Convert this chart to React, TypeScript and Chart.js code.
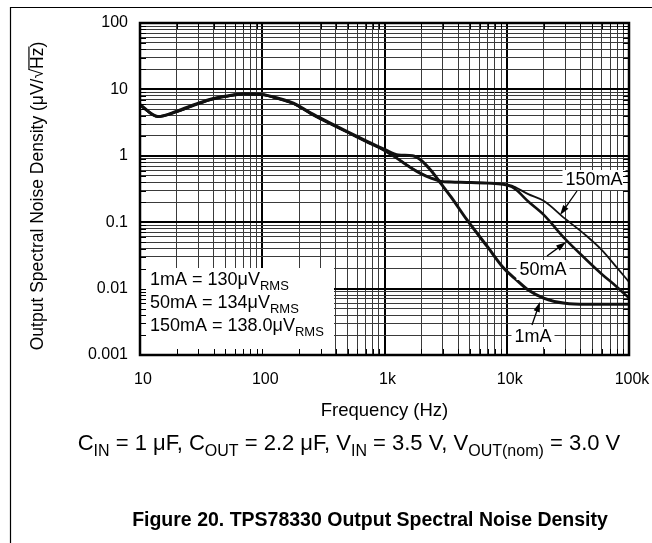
import React, { useEffect, useRef } from "react";
import { Chart, registerables } from "chart.js";

Chart.register(...registerables);

// ---------- data ----------
const FREQ_HZ = [
  10, 14, 20, 30, 40, 50, 70, 100, 130, 180, 250, 350, 500, 700, 1000, 1300,
  1700, 2000, 2400, 2900, 3500, 4700, 7000, 9300, 11000, 12000, 15000, 20000,
  30000, 45000, 60000, 80000, 100000,
];
const NOISE_1MA = [
  5.9, 3.9, 4.7, 6.2, 7.3, 7.9, 8.6, 8.4, 7.5, 6.2, 4.4, 3.2, 2.3, 1.7, 1.25,
  1.03, 1.0, 0.85, 0.6, 0.38, 0.24, 0.11, 0.042, 0.021, 0.0155, 0.0135, 0.0095,
  0.0072, 0.006, 0.0058, 0.0058, 0.0058, 0.0058,
];
const NOISE_50MA = [
  5.8, 3.9, 4.6, 6.1, 7.2, 7.8, 8.5, 8.3, 7.4, 6.1, 4.3, 3.1, 2.25, 1.65, 1.2,
  0.88, 0.63, 0.53, 0.46, 0.41, 0.4, 0.395, 0.385, 0.37, 0.34, 0.305, 0.205,
  0.13, 0.056, 0.027, 0.0165, 0.0105, 0.0072,
];
const NOISE_150MA = [
  5.8, 3.9, 4.6, 6.1, 7.2, 7.8, 8.5, 8.3, 7.4, 6.1, 4.3, 3.1, 2.25, 1.65, 1.2,
  0.9, 0.65, 0.55, 0.47, 0.42, 0.41, 0.405, 0.395, 0.38, 0.355, 0.33, 0.265,
  0.21, 0.113, 0.062, 0.038, 0.0205, 0.0126,
];
const SERIES_NAMES = ["1mA", "50mA", "150mA"];
const SERIES_WIDTHS = [3, 2.6, 1.8];

const X_DECADES = [10, 100, 1000, 10000, 100000];
const X_TICK_LABELS = ["10", "100", "1k", "10k", "100k"];
const Y_DECADES = [0.001, 0.01, 0.1, 1, 10, 100];
const Y_TICK_LABELS = ["0.001", "0.01", "0.1", "1", "10", "100"];

const RMS_TEXT = ["1mA = 130μV", "50mA = 134μV", "150mA = 138.0μV"];
// arrow heads point at these (frequency, density) spots on each curve
const ARROW_FREQ = [18700, 30500, 27300];
const ARROW_VALUE = [0.0063, 0.05, 0.128];

// ---------- helpers ----------
const FF = '"Liberation Sans", Arial, Helvetica, sans-serif';

function withMinors(decades: number[]): number[] {
  const out: number[] = [];
  for (let i = 0; i < decades.length - 1; i++) {
    for (let k = 1; k < 10; k++) out.push(decades[i] * k);
  }
  out.push(decades[decades.length - 1]);
  return out;
}
function decadeIndex(v: number, decades: number[]): number {
  return decades.findIndex((d) => Math.abs(v / d - 1) < 1e-6);
}

type Part = [string, boolean];
function drawRich(
  ctx: CanvasRenderingContext2D,
  parts: Part[],
  x: number,
  y: number,
  size: number,
  align: "left" | "center",
  bold = false,
  subRatio = 0.7
) {
  const sub = Math.round(size * subRatio);
  const f = (s: number) => `${bold ? "bold " : ""}${s}px ${FF}`;
  let total = 0;
  for (const [t, isSub] of parts) {
    ctx.font = f(isSub ? sub : size);
    total += ctx.measureText(t).width;
  }
  let cx = align === "center" ? x - total / 2 : x;
  ctx.textAlign = "left";
  ctx.textBaseline = "alphabetic";
  for (const [t, isSub] of parts) {
    ctx.font = f(isSub ? sub : size);
    ctx.fillText(t, cx, isSub ? y + size * 0.27 : y);
    cx += ctx.measureText(t).width;
  }
}

function arrow(
  ctx: CanvasRenderingContext2D,
  x1: number,
  y1: number,
  x2: number,
  y2: number
) {
  const a = Math.atan2(y2 - y1, x2 - x1);
  const L = 10;
  const W = 3.2;
  ctx.beginPath();
  ctx.moveTo(x1, y1);
  ctx.lineTo(x2 - Math.cos(a) * L * 0.8, y2 - Math.sin(a) * L * 0.8);
  ctx.lineWidth = 1.3;
  ctx.strokeStyle = "#000";
  ctx.stroke();
  ctx.beginPath();
  ctx.moveTo(x2, y2);
  ctx.lineTo(
    x2 - Math.cos(a) * L - Math.sin(a) * W,
    y2 - Math.sin(a) * L + Math.cos(a) * W
  );
  ctx.lineTo(
    x2 - Math.cos(a) * L + Math.sin(a) * W,
    y2 - Math.sin(a) * L - Math.cos(a) * W
  );
  ctx.closePath();
  ctx.fillStyle = "#000";
  ctx.fill();
}

const decorPlugin = {
  id: "decor",
  afterDatasetsDraw(chart: any) {
    const ctx: CanvasRenderingContext2D = chart.ctx;
    const area = chart.chartArea;
    const xs = chart.scales.x;
    const ys = chart.scales.y;
    ctx.save();

    // white legend box (RMS values)
    ctx.fillStyle = "#fff";
    ctx.fillRect(area.left, 268, 334 - area.left, area.bottom - 268);

    // curve label boxes
    const labelBoxes = [
      { text: "1mA", x: 533, y: 342, tail: [532, 325] },
      { text: "50mA", x: 543, y: 275, tail: [547, 256] },
      { text: "150mA", x: 594, y: 185, tail: [577, 191] },
    ];
    ctx.font = `18px ${FF}`;
    labelBoxes.forEach((b) => {
      const w = ctx.measureText(b.text).width;
      ctx.fillStyle = "#fff";
      ctx.fillRect(b.x - w / 2 - 3, b.y - 15, w + 6, 20);
    });

    // inner tick marks along frame
    ctx.strokeStyle = "#000";
    ctx.lineWidth = 1;
    withMinors(X_DECADES).forEach((v) => {
      const px = Math.round(xs.getPixelForValue(v)) + 0.5;
      ctx.beginPath();
      ctx.moveTo(px, area.bottom);
      ctx.lineTo(px, area.bottom - 6);
      ctx.moveTo(px, area.top);
      ctx.lineTo(px, area.top + 6);
      ctx.stroke();
    });
    withMinors(Y_DECADES).forEach((v) => {
      const py = Math.round(ys.getPixelForValue(v)) + 0.5;
      ctx.beginPath();
      ctx.moveTo(area.left, py);
      ctx.lineTo(area.left + 6, py);
      ctx.moveTo(area.right, py);
      ctx.lineTo(area.right - 6, py);
      ctx.stroke();
    });

    // frame
    ctx.lineWidth = 2.5;
    ctx.strokeStyle = "#000";
    ctx.strokeRect(area.left, area.top, area.right - area.left, area.bottom - area.top);

    // RMS legend text
    ctx.fillStyle = "#000";
    const baselines = [285, 308, 331];
    RMS_TEXT.forEach((t, i) => {
      drawRich(ctx, [[t, false], ["RMS", true]], 150, baselines[i], 18, "left");
    });

    // curve labels + arrows
    ctx.fillStyle = "#000";
    labelBoxes.forEach((b, i) => {
      ctx.font = `18px ${FF}`;
      ctx.textAlign = "center";
      ctx.textBaseline = "alphabetic";
      ctx.fillText(b.text, b.x, b.y);
      const hx = xs.getPixelForValue(ARROW_FREQ[i]);
      const hy = ys.getPixelForValue(ARROW_VALUE[i]);
      arrow(ctx, b.tail[0], b.tail[1], hx, hy);
    });

    ctx.restore();
  },
  afterDraw(chart: any) {
    const ctx: CanvasRenderingContext2D = chart.ctx;
    const area = chart.chartArea;
    ctx.save();
    ctx.fillStyle = "#000";

    // page frame (top + left)
    ctx.strokeStyle = "#000";
    ctx.lineWidth = 1.2;
    ctx.beginPath();
    ctx.moveTo(10.5, 543);
    ctx.lineTo(10.5, 7.5);
    ctx.lineTo(652, 7.5);
    ctx.stroke();

    // y axis title with overline over Hz
    ctx.save();
    ctx.translate(37, 196);
    ctx.rotate(-Math.PI / 2);
    const size = 17.5;
    ctx.font = `${size}px ${FF}`;
    const pre = "Output Spectral Noise Density (μV/√";
    const hz = "Hz";
    const full = pre + hz + ")";
    const w = ctx.measureText(full).width;
    const wPre = ctx.measureText(pre).width;
    const wHz = ctx.measureText(hz).width;
    ctx.textAlign = "left";
    ctx.textBaseline = "alphabetic";
    const sx = -w / 2;
    const base = size * 0.36;
    ctx.fillText(full, sx, base);
    ctx.lineWidth = 1.2;
    ctx.beginPath();
    ctx.moveTo(sx + wPre - 1, base - size * 0.82);
    ctx.lineTo(sx + wPre + wHz + 1, base - size * 0.82);
    ctx.stroke();
    ctx.restore();

    // x axis title
    ctx.font = `18.5px ${FF}`;
    ctx.textAlign = "center";
    ctx.textBaseline = "alphabetic";
    ctx.fillText("Frequency (Hz)", (area.left + area.right) / 2, 416);

    // conditions
    drawRich(
      ctx,
      [
        ["C", false],
        ["IN", true],
        [" = 1 μF, C", false],
        ["OUT", true],
        [" = 2.2 μF, V", false],
        ["IN", true],
        [" = 3.5 V, V", false],
        ["OUT(nom)", true],
        [" = 3.0 V", false],
      ],
      349,
      450,
      22,
      "center",
      false,
      0.72
    );

    // caption
    drawRich(
      ctx,
      [["Figure 20. TPS78330 Output Spectral Noise Density", false]],
      370,
      526,
      19.5,
      "center",
      true
    );
    ctx.restore();
  },
};

export default function App() {
  const ref = useRef<HTMLCanvasElement | null>(null);

  useEffect(() => {
    if (!ref.current) return;
    const mk = (vals: number[]) => FREQ_HZ.map((f, i) => ({ x: f, y: vals[i] }));
    const series = [NOISE_1MA, NOISE_50MA, NOISE_150MA];
    const chart = new Chart(ref.current, {
      type: "line",
      data: {
        datasets: series.map((vals, i) => ({
          label: SERIES_NAMES[i],
          data: mk(vals),
          borderColor: "#111",
          borderWidth: SERIES_WIDTHS[i],
          pointRadius: 0,
          fill: false,
          cubicInterpolationMode: "monotone" as const,
        })),
      },
      options: {
        responsive: false,
        maintainAspectRatio: false,
        animation: false,
        devicePixelRatio: 1,
        layout: { padding: { left: 0, top: 23, right: 23, bottom: 148 } },
        plugins: {
          legend: { display: false },
          tooltip: { enabled: false },
        },
        scales: {
          x: {
            type: "logarithmic",
            min: 10,
            max: 100000,
            afterBuildTicks: (axis: any) => {
              axis.ticks = withMinors(X_DECADES).map((v) => ({ value: v }));
            },
            afterFit: (axis: any) => {
              axis.height = 40;
              axis.paddingLeft = 0;
              axis.paddingRight = 0;
            },
            border: { display: false },
            grid: {
              drawTicks: false,
              color: (c: any) =>
                decadeIndex(c.tick?.value, X_DECADES) >= 0 ? "#000" : "#3a3a3a",
              lineWidth: (c: any) =>
                decadeIndex(c.tick?.value, X_DECADES) >= 0 ? 2 : 1,
            },
            ticks: {
              autoSkip: false,
              maxRotation: 0,
              padding: 15,
              labelOffset: 3,
              color: "#000",
              font: { family: FF, size: 16 },
              callback: (v: any) => {
                const i = decadeIndex(Number(v), X_DECADES);
                return i >= 0 ? X_TICK_LABELS[i] : "";
              },
            },
          },
          y: {
            type: "logarithmic",
            min: 0.001,
            max: 100,
            afterBuildTicks: (axis: any) => {
              axis.ticks = withMinors(Y_DECADES).map((v) => ({ value: v }));
            },
            afterFit: (axis: any) => {
              axis.width = 140;
              axis.paddingTop = 0;
              axis.paddingBottom = 0;
            },
            border: { display: false },
            grid: {
              drawTicks: false,
              color: (c: any) =>
                decadeIndex(c.tick?.value, Y_DECADES) >= 0 ? "#000" : "#3a3a3a",
              lineWidth: (c: any) =>
                decadeIndex(c.tick?.value, Y_DECADES) >= 0 ? 2 : 1,
            },
            ticks: {
              autoSkip: false,
              padding: 12,
              color: "#000",
              font: { family: FF, size: 16 },
              callback: (v: any) => {
                const i = decadeIndex(Number(v), Y_DECADES);
                return i >= 0 ? Y_TICK_LABELS[i] : "";
              },
            },
          },
        },
      },
      plugins: [decorPlugin],
    } as any);
    return () => chart.destroy();
  }, []);

  return (
    <div style={{ position: "absolute", left: 0, top: 0, width: 652, height: 543, background: "#fff" }}>
      <canvas ref={ref} width={652} height={543} style={{ display: "block" }} />
    </div>
  );
}
